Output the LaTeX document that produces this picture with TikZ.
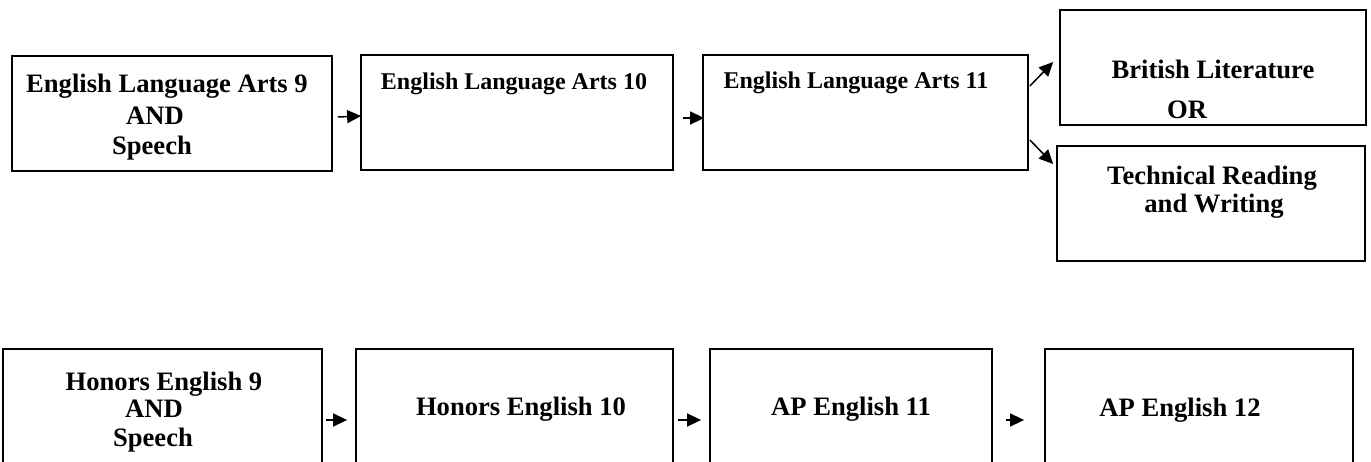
\documentclass[tikz,border=0pt]{standalone}
\usepackage{fontspec}
\setmainfont{Liberation Serif}
\usetikzlibrary{arrows.meta}
\tikzset{
  box/.style={draw=black, line width=1.8pt, rectangle, inner sep=0pt, fill=none},
  txt/.style={anchor=base, inner sep=0pt, font=\bfseries\fontsize{26.6}{30}\selectfont},
  txts/.style={anchor=base, inner sep=0pt, font=\bfseries\fontsize{24}{28}\selectfont},
  arr/.style={line width=1.5pt, -{Triangle[length=14pt,width=13pt]}}
}
\newcommand{\boxat}[5]{% name, x1, y1, x2, y2
  \node[box, minimum width=#4pt-#2pt, minimum height=#5pt-#3pt] (#1) at ({(#2+#4)/2},{(#3+#5)/2}) {};}
\begin{document}
\begin{tikzpicture}[x=1pt,y=-1pt]
\useasboundingbox (0,0) rectangle (1371,461);
\clip (0,0) rectangle (1371,461);
\fill[white] (0,0) rectangle (1371,461);
% top row boxes
\boxat{a1}{12}{56}{332}{171}
\boxat{a2}{361}{55}{673}{170}
\boxat{a3}{703}{55}{1028}{170}
\boxat{b1}{1060}{10}{1366}{125}
\boxat{b2}{1057}{146}{1365}{261}
% bottom row boxes (cut off at the bottom)
\boxat{c1}{3}{349}{322}{485}
\boxat{c2}{356}{349}{673}{485}
\boxat{c3}{710}{349}{992}{485}
\boxat{c4}{1045}{349}{1353}{485}
% texts
\node[txt] (t1) at (167,92) {English Language Arts 9};
\node[txt] (t2) at (155,124) {AND};
\node[txt] (t3) at (152,154) {Speech};
\node[txts] (t4) at (514,89) {English Language Arts 10};
\node[txts] (t5) at (856,88) {English Language Arts 11};
\node[txt] (t6) at (1213,78) {British Literature};
\node[txt] (t7) at (1187,118) {OR};
\node[txt] (t8) at (1212,184) {Technical Reading};
\node[txt] (t9) at (1214,212) {and Writing};
\node[txt] (t10) at (164,390) {Honors English 9};
\node[txt] (t11) at (154,417) {AND};
\node[txt] (t12) at (153,446) {Speech};
\node[txt] (t13) at (521,415) {Honors English 10};
\node[txt] (t14) at (851,415) {AP English 11};
\node[txt] (t15) at (1180,416) {AP English 12};
% connectors
\draw[arr] ([shift={(5,3.5)}]a1.east) -- ([shift={(1,3.5)}]a2.west);
\draw[arr] ([shift={(9,5.5)}]a2.east) -- ([shift={(2,5.5)}]a3.west);
\draw[arr] ([shift={(1,-26.5)}]a3.east) -- ([shift={(-6,-5.5)}]b1.west);
\draw[arr] ([shift={(1,27.5)}]a3.east) -- ([shift={(-3,-39.5)}]b2.west);
\draw[arr] ([shift={(3,0)}]c1.east |- 0,420) -- ([shift={(-8,0)}]c2.west |- 0,420);
\draw[arr] ([shift={(4,0)}]c2.east |- 0,420) -- ([shift={(-8,0)}]c3.west |- 0,420);
\draw[arr] ([shift={(13,0)}]c3.east |- 0,420) -- ([shift={(-20,0)}]c4.west |- 0,420);
\end{tikzpicture}
\end{document}
